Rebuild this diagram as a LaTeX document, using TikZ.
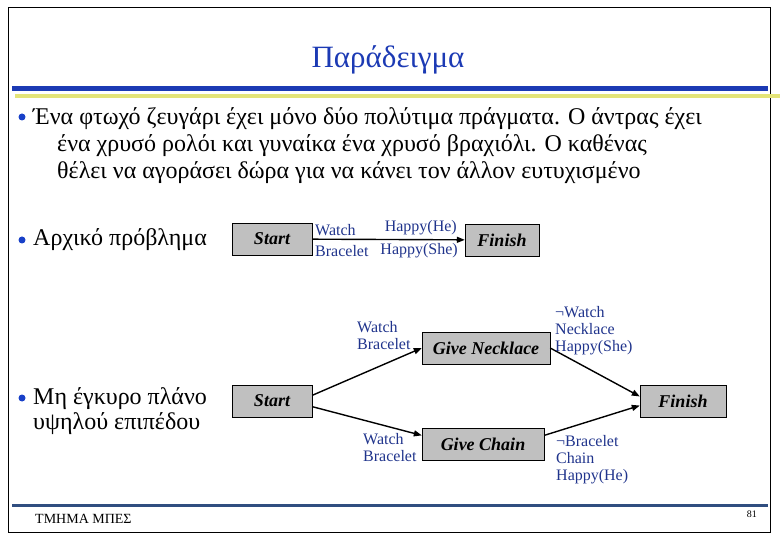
\documentclass[tikz,border=0pt]{standalone}
\usepackage{fontspec}
\setmainfont{Liberation Serif}
\definecolor{titleblue}{RGB}{28,58,180}
\definecolor{dotblue}{RGB}{24,64,200}
\definecolor{labelblue}{RGB}{32,52,140}
\definecolor{rulegold}{RGB}{228,228,120}
\definecolor{footslate}{RGB}{48,78,128}
\definecolor{boxgray}{RGB}{192,192,192}
\usetikzlibrary{arrows.meta}

\tikzset{
  act/.style={draw=black, fill=boxgray, minimum height=32pt, inner xsep=8pt,
    font=\fontsize{18}{20}\selectfont\bfseries\itshape},
  cond/.style={text=labelblue, inner sep=0pt, align=left,
    font=\fontsize{16}{17}\selectfont},
  body/.style={inner sep=0pt, align=left, font=\fontsize{24}{27}\selectfont},
  link/.style={line width=1.4pt, -{Triangle[length=8pt,width=6pt]}}
}

\begin{document}
\begin{tikzpicture}[x=1pt,y=-1pt]
        \useasboundingbox (0,0) rectangle (780,540);
        \draw[black, line width=1pt] (8,8) rectangle (770,532);
        \node[text=titleblue, font=\fontsize{31}{33}\selectfont] (title) at (388,60) {Παράδειγμα};
        \fill[titleblue] (12,86) rectangle (768,91);
        \fill[rulegold] (15,94) rectangle (780,98);
        \fill[dotblue] (22,117) circle (3.5);
        \node[body, anchor=north west] (intro) at (33,107) {Ένα φτωχό ζευγάρι έχει μόνο δύο πολύτιμα πράγματα. Ο άντρας έχει\\
          \hspace*{24pt}ένα χρυσό ρολόι και γυναίκα ένα χρυσό βραχιόλι. Ο καθένας\\
          \hspace*{24pt}θέλει να αγοράσει δώρα για να κάνει τον άλλον ευτυχισμένο};
        \fill[dotblue] (22,240) circle (3.5);
        \node[body, anchor=west] (orig) at (33,240) {Αρχικό πρόβλημα};
        \node[act, minimum width=80pt] (s1) at (272,239) {Start};
        \node[act, minimum width=74pt] (f1) at (502,240) {Finish};
        \draw[link] (s1) -- (f1);
        \node[cond, anchor=west] (w1) at (315,230) {Watch};
        \node[cond, anchor=west] (b1) at (315,251) {Bracelet};
        \node[cond, anchor=east] (hh1) at (457,228) {Happy(He)};
        \node[cond, anchor=east] (hs1) at (458,251) {Happy(She)};
        \fill[dotblue] (22,398) circle (3.5);
        \node[body, anchor=north west, font=\fontsize{24}{25}\selectfont] (bad) at (33,387) {Μη έγκυρο πλάνο\\υψηλού επιπέδου};
        \node[act, minimum width=80pt] (s2) at (272,401) {Start};
        \node[act, minimum width=86pt] (f2) at (683,401) {Finish};
        \node[act, minimum width=128pt] (gn) at (486,348) {Give Necklace};
        \node[act, minimum width=122pt] (gc) at (483,444) {Give Chain};
        \draw[link] (s2.8) -- (gn.west);
        \draw[link] (s2.-8) -- (gc.172);
        \draw[link] (gn.east) -- (f2.174);
        \draw[link] (gc.8) -- (f2.186);
        \node[cond, anchor=north west] (pn) at (357,321) {Watch\\Bracelet};
        \node[cond, anchor=north west] (en) at (555,306) {¬Watch\\Necklace\\Happy(She)};
        \node[cond, anchor=north west] (pc) at (363,433) {Watch\\Bracelet};
        \node[cond, anchor=north west] (ec) at (556,435) {¬Bracelet\\Chain\\Happy(He)};
        \fill[footslate] (12,504) rectangle (768,507);
        \node[anchor=west, inner sep=0pt, font=\fontsize{14}{15}\selectfont] (dept) at (35,519) {ΤΜΗΜΑ ΜΠΕΣ};
        \node[anchor=east, inner sep=0pt, font=\fontsize{10}{11}\selectfont] (page) at (757,514) {81};
      \end{tikzpicture}
\end{document}
